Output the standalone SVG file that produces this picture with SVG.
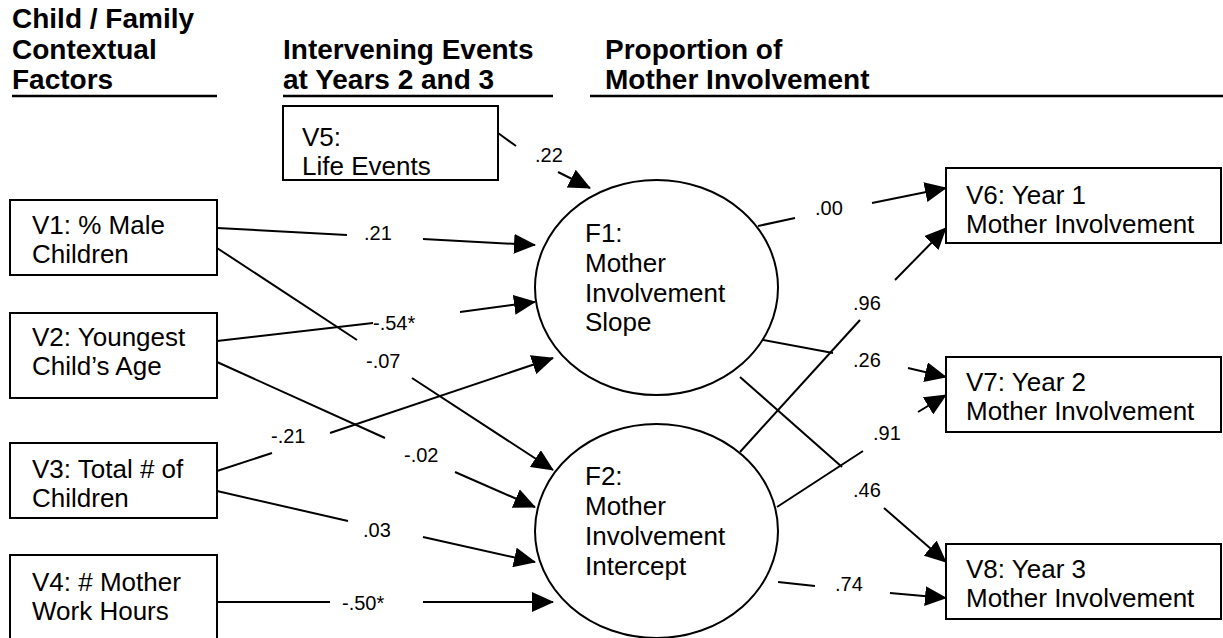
<svg xmlns="http://www.w3.org/2000/svg" width="1223" height="638" viewBox="0 0 1223 638">
<style>
.hd{font-family:"Liberation Sans",Arial,sans-serif;font-weight:bold;font-size:28px;fill:#000}
.tx{font-family:"Liberation Sans",Arial,sans-serif;font-size:26px;fill:#000}
.lb{font-family:"Liberation Sans",Arial,sans-serif;font-size:20px;fill:#000}
.box{fill:#fff;stroke:#000;stroke-width:2}
.ell{fill:#fff;stroke:#000;stroke-width:2}
.ln{stroke:#000;stroke-width:2;fill:none}
.ar{stroke:#000;stroke-width:2;fill:none;marker-end:url(#ah)}
.ul{stroke:#000;stroke-width:2.5}
</style>
<defs>
<marker id="ah" markerUnits="userSpaceOnUse" viewBox="0 0 22 20" refX="21" refY="10" markerWidth="22" markerHeight="20" orient="auto">
<path d="M0,0 L22,10 L0,20 z" fill="#000"/>
</marker>
</defs>
<rect width="1223" height="638" fill="#fff"/>
<g id="headers">
<text class="hd" x="12" y="28">Child / Family</text>
<text class="hd" x="12" y="59">Contextual</text>
<text class="hd" x="12" y="89">Factors</text>
<line class="ul" x1="12" y1="96" x2="217" y2="96"/>
<text class="hd" x="283" y="59">Intervening Events</text>
<text class="hd" x="283" y="89">at Years 2 and 3</text>
<line class="ul" x1="283" y1="96" x2="553" y2="96"/>
<text class="hd" x="605" y="59">Proportion of</text>
<text class="hd" x="605" y="89">Mother Involvement</text>
<line class="ul" x1="590" y1="96" x2="1223" y2="96"/>
</g>
<g id="connectors">
<line class="ln" x1="498" y1="133" x2="516" y2="146"/>
<line class="ar" x1="558" y1="172" x2="590" y2="188"/>
<line class="ln" x1="217" y1="228" x2="347" y2="235"/>
<line class="ar" x1="423" y1="239" x2="535" y2="245"/>
<line class="ln" x1="217" y1="341" x2="373" y2="323"/>
<line class="ar" x1="460" y1="312" x2="535" y2="302"/>
<line class="ln" x1="217" y1="248" x2="357" y2="340"/>
<line class="ar" x1="412" y1="378" x2="553" y2="470"/>
<line class="ln" x1="217" y1="362" x2="385" y2="438"/>
<line class="ar" x1="455" y1="472" x2="535" y2="507"/>
<line class="ln" x1="217" y1="471" x2="272" y2="453"/>
<line class="ar" x1="330" y1="433" x2="553" y2="358"/>
<line class="ln" x1="217" y1="491" x2="348" y2="521"/>
<line class="ar" x1="423" y1="537" x2="535" y2="562"/>
<line class="ln" x1="217" y1="602" x2="330" y2="602"/>
<line class="ar" x1="423" y1="602" x2="553" y2="602"/>
<line class="ln" x1="758" y1="226" x2="795" y2="218"/>
<line class="ar" x1="872" y1="203" x2="946" y2="188"/>
<line class="ln" x1="740" y1="452" x2="860" y2="320"/>
<line class="ar" x1="895" y1="280" x2="946" y2="228"/>
<line class="ln" x1="758" y1="339" x2="833" y2="353"/>
<line class="ar" x1="908" y1="368" x2="946" y2="377"/>
<line class="ln" x1="777" y1="507" x2="863" y2="451"/>
<line class="ar" x1="918" y1="412" x2="946" y2="395"/>
<line class="ln" x1="740" y1="377" x2="842" y2="467"/>
<line class="ar" x1="884" y1="508" x2="946" y2="562"/>
<line class="ln" x1="778" y1="582" x2="815" y2="586"/>
<line class="ar" x1="890" y1="593" x2="946" y2="598"/>
<text class="lb" x="535" y="162">.22</text>
<text class="lb" x="364" y="240">.21</text>
<text class="lb" x="373" y="330">-.54*</text>
<text class="lb" x="366" y="368">-.07</text>
<text class="lb" x="404" y="462">-.02</text>
<text class="lb" x="271" y="443">-.21</text>
<text class="lb" x="363" y="537">.03</text>
<text class="lb" x="342" y="610">-.50*</text>
<text class="lb" x="815" y="215">.00</text>
<text class="lb" x="853" y="310">.96</text>
<text class="lb" x="853" y="367">.26</text>
<text class="lb" x="873" y="440">.91</text>
<text class="lb" x="853" y="497">.46</text>
<text class="lb" x="835" y="591">.74</text>
</g>
<g id="V5">
<rect class="box" x="283" y="106" width="215" height="74"/>
<text class="tx" x="302" y="146">V5:</text>
<text class="tx" x="302" y="175">Life Events</text>
</g>
<g id="V1">
<rect class="box" x="10" y="200" width="207" height="75"/>
<text class="tx" x="32" y="234">V1: % Male</text>
<text class="tx" x="32" y="263">Children</text>
</g>
<g id="V2">
<rect class="box" x="10" y="313" width="207" height="85"/>
<text class="tx" x="32" y="346">V2: Youngest</text>
<text class="tx" x="32" y="375">Child’s Age</text>
</g>
<g id="V3">
<rect class="box" x="10" y="443" width="207" height="75"/>
<text class="tx" x="32" y="478">V3: Total # of</text>
<text class="tx" x="32" y="507">Children</text>
</g>
<g id="V4">
<rect class="box" x="10" y="555" width="207" height="90"/>
<text class="tx" x="32" y="591">V4: # Mother</text>
<text class="tx" x="32" y="620">Work Hours</text>
</g>
<g id="F1">
<ellipse class="ell" cx="656.5" cy="287.5" rx="121.5" ry="107.5"/>
<text class="tx" x="585" y="242">F1:</text>
<text class="tx" x="585" y="272">Mother</text>
<text class="tx" x="585" y="302">Involvement</text>
<text class="tx" x="585" y="331">Slope</text>
</g>
<g id="F2">
<ellipse class="ell" cx="656.5" cy="531" rx="121.5" ry="107"/>
<text class="tx" x="585" y="485">F2:</text>
<text class="tx" x="585" y="515">Mother</text>
<text class="tx" x="585" y="545">Involvement</text>
<text class="tx" x="585" y="575">Intercept</text>
</g>
<g id="V6">
<rect class="box" x="946" y="168" width="275" height="75"/>
<text class="tx" x="966" y="204">V6: Year 1</text>
<text class="tx" x="966" y="233">Mother Involvement</text>
</g>
<g id="V7">
<rect class="box" x="946" y="357" width="275" height="75"/>
<text class="tx" x="966" y="391">V7: Year 2</text>
<text class="tx" x="966" y="420">Mother Involvement</text>
</g>
<g id="V8">
<rect class="box" x="946" y="544" width="275" height="75"/>
<text class="tx" x="966" y="578">V8: Year 3</text>
<text class="tx" x="966" y="607">Mother Involvement</text>
</g>
</svg>
